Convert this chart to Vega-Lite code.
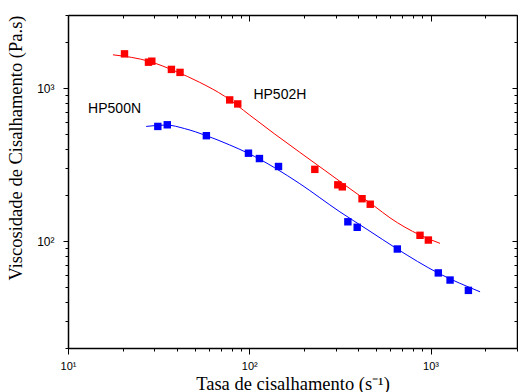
{
  "$schema": "https://vega.github.io/schema/vega-lite/v6.json",
  "width": 449,
  "height": 333,
  "autosize": "none",
  "padding": {"left": 68, "top": 15, "right": 1, "bottom": 44},
  "background": "white",
  "config": {
    "view": {"stroke": null},
    "axis": {
      "domainColor": "black", "tickColor": "black", "labelColor": "black", "titleColor": "black",
      "grid": false, "labelFont": "Liberation Sans", "labelFontSize": 12,
      "titleFont": "Liberation Serif", "titleFontSize": 18.5, "titleFontWeight": "normal",
      "domainWidth": 1.5, "tickWidth": 1
    }
  },
  "datasets": {
    "curves": [
      {"series": "HP502H", "x": 17.7, "y": 1648},
      {"series": "HP502H", "x": 28.2, "y": 1491},
      {"series": "HP502H", "x": 38.8, "y": 1293},
      {"series": "HP502H", "x": 53.3, "y": 1089},
      {"series": "HP502H", "x": 73.2, "y": 883},
      {"series": "HP502H", "x": 100.6, "y": 665},
      {"series": "HP502H", "x": 138.3, "y": 500},
      {"series": "HP502H", "x": 190.1, "y": 380},
      {"series": "HP502H", "x": 261.2, "y": 289.5},
      {"series": "HP502H", "x": 359, "y": 220},
      {"series": "HP502H", "x": 493.6, "y": 168},
      {"series": "HP502H", "x": 597.4, "y": 141.9},
      {"series": "HP502H", "x": 875, "y": 109.4},
      {"series": "HP502H", "x": 1128, "y": 96.6},
      {"series": "HP500N", "x": 27.0, "y": 561},
      {"series": "HP500N", "x": 34.9, "y": 573},
      {"series": "HP500N", "x": 44.0, "y": 543},
      {"series": "HP500N", "x": 58.0, "y": 488},
      {"series": "HP500N", "x": 78.0, "y": 424.6},
      {"series": "HP500N", "x": 98.5, "y": 375},
      {"series": "HP500N", "x": 138.3, "y": 301},
      {"series": "HP500N", "x": 190.1, "y": 237},
      {"series": "HP500N", "x": 316.2, "y": 155.2},
      {"series": "HP500N", "x": 451.6, "y": 118.2},
      {"series": "HP500N", "x": 650.6, "y": 89.2},
      {"series": "HP500N", "x": 1104, "y": 61.7},
      {"series": "HP500N", "x": 1877, "y": 46.6}
    ],
    "points": [
      {"series": "HP502H", "x": 20.5, "y": 1672},
      {"series": "HP502H", "x": 27.8, "y": 1475},
      {"series": "HP502H", "x": 29.0, "y": 1497},
      {"series": "HP502H", "x": 37.2, "y": 1323},
      {"series": "HP502H", "x": 41.5, "y": 1265},
      {"series": "HP502H", "x": 78.0, "y": 836},
      {"series": "HP502H", "x": 86.4, "y": 787},
      {"series": "HP502H", "x": 230, "y": 294},
      {"series": "HP502H", "x": 308, "y": 233},
      {"series": "HP502H", "x": 326, "y": 226},
      {"series": "HP502H", "x": 419, "y": 189},
      {"series": "HP502H", "x": 465, "y": 174},
      {"series": "HP502H", "x": 875, "y": 109},
      {"series": "HP502H", "x": 973, "y": 101.5},
      {"series": "HP500N", "x": 31.3, "y": 561},
      {"series": "HP500N", "x": 35.3, "y": 575},
      {"series": "HP500N", "x": 58.0, "y": 488},
      {"series": "HP500N", "x": 99.0, "y": 375},
      {"series": "HP500N", "x": 113.8, "y": 346},
      {"series": "HP500N", "x": 145, "y": 307},
      {"series": "HP500N", "x": 350, "y": 133.6},
      {"series": "HP500N", "x": 394, "y": 123},
      {"series": "HP500N", "x": 656, "y": 88.7},
      {"series": "HP500N", "x": 1104, "y": 61.9},
      {"series": "HP500N", "x": 1282, "y": 55.6},
      {"series": "HP500N", "x": 1618, "y": 47.6}
    ],
    "labels": [
      {"label": "HP502H", "x": 147.5, "y": 906},
      {"label": "HP500N", "x": 18.07, "y": 727}
    ]
  },
  "layer": [
    {
      "data": {"name": "curves"},
      "mark": {"type": "line", "strokeWidth": 1, "interpolate": "monotone"},
      "encoding": {
        "x": {
          "field": "x", "type": "quantitative",
          "scale": {"type": "log", "domain": [10, 3000], "nice": false},
          "axis": {
            "orient": "bottom",
            "values": [10, 20, 30, 40, 50, 60, 70, 80, 90, 100, 200, 300, 400, 500, 600, 700, 800, 900, 1000, 2000, 3000],
            "labelExpr": "datum.value == 10 ? '10¹' : datum.value == 100 ? '10²' : datum.value == 1000 ? '10³' : ''",
            "labelOverlap": false, "labelFlush": false,
            "labelFontSize": 11,
            "tickSize": {"condition": {"test": "datum.value == 10 || datum.value == 100 || datum.value == 1000", "value": 6}, "value": 3},
            "labelPadding": 6,
            "title": "Tasa de cisalhamento (s⁻¹)",
            "titlePadding": 3
          }
        },
        "y": {
          "field": "y", "type": "quantitative",
          "scale": {"type": "log", "domain": [20, 3000], "nice": false},
          "axis": {
            "orient": "left",
            "values": [20, 30, 40, 50, 60, 70, 80, 90, 100, 200, 300, 400, 500, 600, 700, 800, 900, 1000, 2000, 3000],
            "labelExpr": "datum.value == 100 ? '10²' : datum.value == 1000 ? '10³' : ''",
            "labelOverlap": false, "labelFlush": false,
            "tickSize": {"condition": {"test": "datum.value == 100 || datum.value == 1000", "value": 5}, "value": 3},
            "labelPadding": 9,
            "title": "Viscosidade de Cisalhamento (Pa.s)",
            "titleAnchor": "end",
            "titlePadding": 11
          }
        },
        "color": {
          "field": "series", "type": "nominal",
          "scale": {"domain": ["HP502H", "HP500N"], "range": ["#FF0000", "#0000FF"]},
          "legend": null
        }
      }
    },
    {
      "data": {"name": "points"},
      "mark": {"type": "square", "size": 55, "filled": true, "opacity": 1},
      "encoding": {
        "x": {
          "field": "x", "type": "quantitative",
          "axis": {
            "orient": "top",
            "values": [10, 20, 30, 40, 50, 60, 70, 80, 90, 100, 200, 300, 400, 500, 600, 700, 800, 900, 1000, 2000, 3000],
            "labels": false, "title": null,
            "tickSize": {"condition": {"test": "datum.value == 10 || datum.value == 100 || datum.value == 1000", "value": -6}, "value": -3}
          }
        },
        "y": {
          "field": "y", "type": "quantitative",
          "axis": {
            "orient": "right",
            "values": [20, 30, 40, 50, 60, 70, 80, 90, 100, 200, 300, 400, 500, 600, 700, 800, 900, 1000, 2000, 3000],
            "labels": false, "title": null,
            "tickSize": {"condition": {"test": "datum.value == 100 || datum.value == 1000", "value": -5}, "value": -3}
          }
        },
        "color": {
          "field": "series", "type": "nominal",
          "scale": {"domain": ["HP502H", "HP500N"], "range": ["#FF0000", "#0000FF"]},
          "legend": null
        }
      }
    },
    {
      "data": {"name": "labels"},
      "mark": {"type": "text", "font": "Liberation Sans", "fontSize": 14, "color": "black", "align": "center", "baseline": "middle"},
      "encoding": {
        "x": {"field": "x", "type": "quantitative", "axis": null},
        "y": {"field": "y", "type": "quantitative", "axis": null},
        "text": {"field": "label"}
      }
    }
  ],
  "resolve": {"axis": {"x": "independent", "y": "independent"}}
}
